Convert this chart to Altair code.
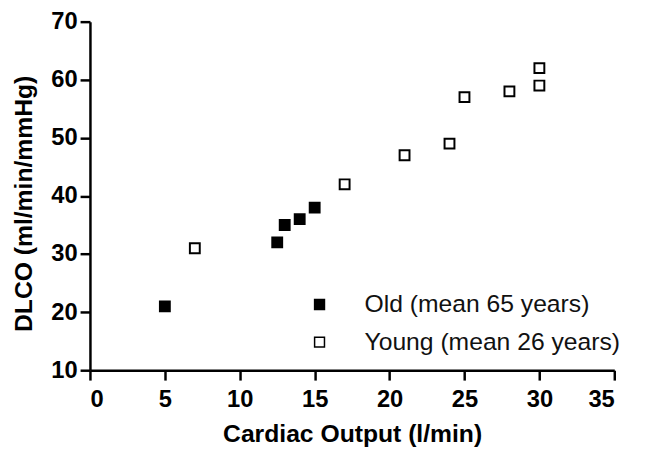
import altair as alt
import pandas as pd

old_label = "Old (mean 65 years)"
young_label = "Young (mean 26 years)"

old_x = [5, 12.5, 13, 14, 15]
old_y = [21, 32, 35, 36, 38]
young_x = [7, 17, 21, 24, 25, 28, 30, 30]
young_y = [31, 42, 47, 49, 57, 58, 59, 62]

x_ticks = [0, 5, 10, 15, 20, 25, 30, 35]
y_ticks = [10, 20, 30, 40, 50, 60, 70]

df = pd.DataFrame({
    "co": old_x + young_x,
    "dlco": old_y + young_y,
    "group": [old_label] * len(old_x) + [young_label] * len(young_x),
})

FONT = "Liberation Sans"

chart = alt.Chart(df).mark_square(
    size=100, stroke="black", strokeWidth=2, opacity=1
).encode(
    x=alt.X("co:Q",
            scale=alt.Scale(domain=[0, 35], nice=False, zero=False),
            axis=alt.Axis(values=x_ticks, title="Cardiac Output (l/min)",
                          labelPadding=8, titlePadding=10)),
    y=alt.Y("dlco:Q",
            scale=alt.Scale(domain=[10, 70], nice=False, zero=False),
            axis=alt.Axis(values=y_ticks, title="DLCO (ml/min/mmHg)",
                          labelPadding=3, titlePadding=14, titleY=184)),
    fill=alt.Fill("group:N",
                  scale=alt.Scale(domain=[old_label, young_label], range=["black", "white"]),
                  legend=alt.Legend(title=None, orient="none", legendX=220, legendY=274,
                                    labelFont=FONT, labelFontSize=25, labelColor="#111111",
                                    labelLimit=0,
                                    symbolType="square", symbolSize=100,
                                    symbolStrokeColor="black", symbolStrokeWidth=1.5,
                                    symbolOpacity=1, rowPadding=12, labelOffset=33,
                                    padding=0)),
).properties(
    width=531,
    height=353,
    padding={"left": 83, "top": 11, "right": 23, "bottom": 80},
    autosize=alt.AutoSizeParams(type="none"),
).configure_view(
    stroke=None
).configure_axis(
    grid=False,
    domainColor="black",
    domainWidth=2.5,
    tickColor="black",
    tickWidth=2.5,
    tickSize=10,
    labelFont=FONT,
    labelFontWeight="bold",
    labelFontSize=24,
    labelColor="black",
    titleFont=FONT,
    titleFontSize=25,
    titleFontWeight="bold",
    titleColor="black",
)

chart.save("out.html", embed_options={"renderer": "svg", "actions": False})
